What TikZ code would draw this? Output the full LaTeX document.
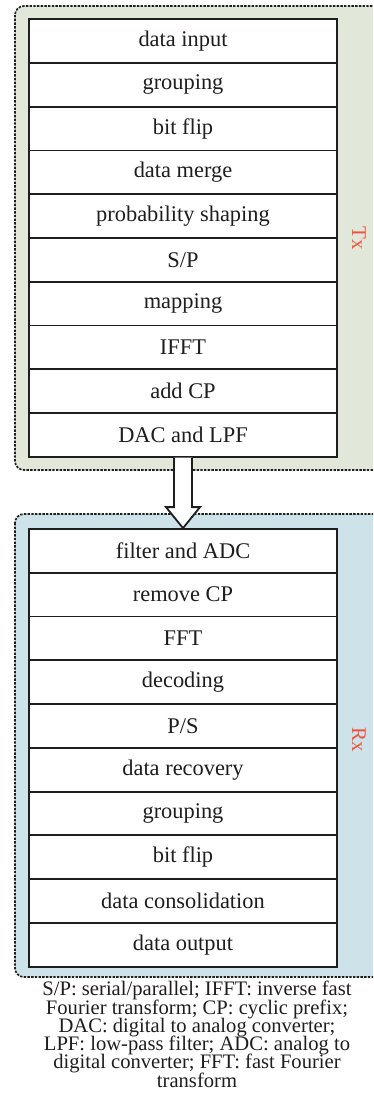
\documentclass[tikz,border=0pt]{standalone}
\usepackage{fontspec}
\setmainfont{Liberation Serif}
\usetikzlibrary{calc}
\definecolor{txfill}{RGB}{226,232,217}
\definecolor{rxfill}{RGB}{206,226,233}
\definecolor{labelred}{RGB}{236,84,62}
\definecolor{ink}{RGB}{30,30,30}
\newcommand{\notefont}{\fontsize{20.6}{18.3}\selectfont\lineskiplimit -30pt\relax}
\tikzset{
  panel/.style={draw=ink, line width=1.7pt, dash pattern=on 2.4pt off 1.3pt, rounded corners=9pt},
  stage/.style={draw=ink, line width=1.8pt, fill=white, minimum width=307.4pt,
    minimum height=43.75pt, inner sep=0pt, text=ink,
    font=\fontsize{22.4}{24}\selectfont},
  sidelabel/.style={text=labelred, rotate=-90, font=\fontsize{21}{22}\selectfont},
  bigarrow/.style={draw=ink, line width=1.8pt, fill=white, line join=miter},
}
\begin{document}
\begin{tikzpicture}[x=1pt,y=-1pt]
\useasboundingbox (0,0) rectangle (373,1096);
\clip (0,0) rectangle (373,1096);
% transmitter and receiver panels
\draw[panel, fill=txfill] (15,6) rectangle (395,470);
\draw[panel, fill=rxfill] (15,514) rectangle (395,977);
\node[sidelabel] (txl) at (359,238) {Tx};
\node[sidelabel] (rxl) at (359,740) {Rx};
% transmitter chain
\foreach \t [count=\i] in {data input, grouping, bit flip, data merge,
  probability shaping, S/P, mapping, IFFT, add CP, DAC and LPF}
  \node[stage] (tx\i) at (183, {19.3 + 43.74*(\i-0.5)}) {\t};
% receiver chain
\foreach \t [count=\i] in {filter and ADC, remove CP, FFT, decoding, P/S,
  data recovery, grouping, bit flip, data consolidation, data output}
  \node[stage] (rx\i) at (183, {529 + 43.77*(\i-0.5)}) {\t};
% hollow block arrow from Tx to Rx
\draw[bigarrow]
  ($(tx10.south)+(-9,0)$) -- ($(rx1.north)+(-9,-21)$) -- ($(rx1.north)+(-17,-21)$)
  -- (rx1.north) -- ($(rx1.north)+(17,-21)$) -- ($(rx1.north)+(9,-21)$)
  -- ($(tx10.south)+(9,0)$);
% abbreviations, set with a fixed line pitch
\node[align=center, text=ink, inner sep=0pt, font=\notefont, anchor=north]
  (notes) at (197,981)
  {S/P: serial/parallel; IFFT: inverse fast\\
   Fourier transform; CP: cyclic prefix;\\
   DAC: digital to analog converter;\\
   LPF: low-pass filter; ADC: analog to\\
   digital converter; FFT: fast Fourier\\
   transform};
\end{tikzpicture}
\end{document}
